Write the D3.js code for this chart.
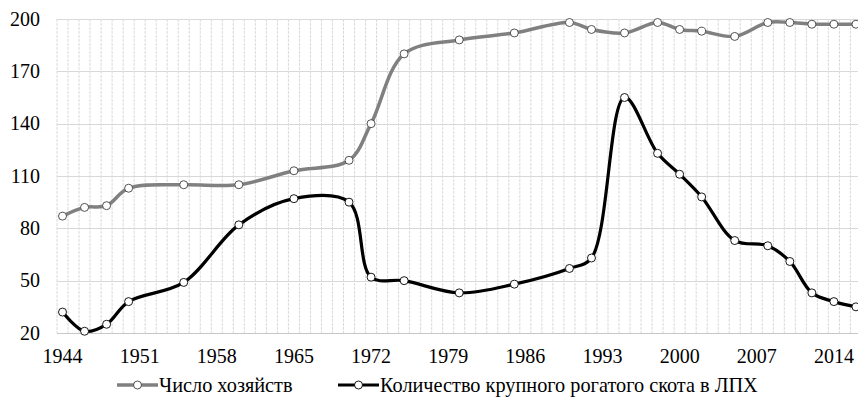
<!DOCTYPE html>
<html>
<head>
<meta charset="utf-8">
<script src="https://cdn.jsdelivr.net/npm/d3@7"></script>
<style>
  html, body { margin: 0; padding: 0; background: #fff; }
  svg { display: block; }
  svg text { font-family: "Liberation Serif", "Times New Roman", Times, "DejaVu Serif", serif !important; fill: #000; }
</style>
</head>
<body>
<svg id="chart" width="858" height="408"></svg>
<script>
const years = [1944,1946,1948,1950,1955,1960,1965,1970,1972,1975,1980,1985,1990,1992,1995,1998,2000,2002,2005,2008,2010,2012,2014,2016];
const households = [87,92,93,103,105,105,113,119,140,180,188,192,198,194,192,198,194,193,190,198,198,197,197,197];
const cattle = [32,21,25,38,49,82,97,95,52,50,43,48,57,63,155,123,111,98,73,70,61,43,38,35];
const seriesNames = ["Число хозяйств", "Количество крупного рогатого скота в ЛПХ"];
const yTicks = [20,50,80,110,140,170,200];
const xTickLabels = [1944,1951,1958,1965,1972,1979,1986,1993,2000,2007,2014];

const FONT = '"Liberation Serif", "Times New Roman", Times, "DejaVu Serif", serif';
const FS = 20;
const allYears = d3.range(1944, 2017);
const svg = d3.select("#chart");
const plotLeft = 57, plotTop = 19, plotBottom = 333;
const step = 11.02;
const x = d3.scaleBand().domain(allYears).range([plotLeft, plotLeft + step * allYears.length]).padding(0);
const y = d3.scaleLinear().domain([20, 200]).range([plotBottom, plotTop]);
const cx = yr => x(yr) + x.bandwidth() / 2;

// vertical gridlines at category boundaries
const g = svg.append("g");
g.selectAll("line.v").data(d3.range(allYears.length + 1)).join("line")
  .attr("x1", i => plotLeft + i * x.bandwidth()).attr("x2", i => plotLeft + i * x.bandwidth())
  .attr("y1", plotTop).attr("y2", plotBottom)
  .attr("stroke", "#dadada").attr("stroke-width", 1).attr("stroke-dasharray", "3,1");
// horizontal gridlines
g.selectAll("line.h").data(yTicks).join("line")
  .attr("x1", plotLeft).attr("x2", plotLeft + step * allYears.length)
  .attr("y1", d => Math.round(y(d)) + 0.5).attr("y2", d => Math.round(y(d)) + 0.5)
  .attr("stroke", d => d === 20 ? "#c8c8c8" : "#d9d9d9").attr("stroke-width", 1);

// y axis labels
const yAxis = d3.axisLeft(y).tickValues(yTicks).tickSize(0).tickPadding(0);
svg.append("g").attr("transform", "translate(40,0)").call(yAxis)
  .attr("font-family", FONT)
  .call(a => a.select(".domain").remove())
  .selectAll("text").attr("font-size", FS).attr("dy", "0.3em");

// x axis labels
const xAxis = d3.axisBottom(x).tickValues(xTickLabels).tickSize(0).tickPadding(0);
svg.append("g").attr("transform", `translate(0,${plotBottom})`).call(xAxis)
  .attr("font-family", FONT)
  .call(a => a.select(".domain").remove())
  .selectAll("text").attr("font-size", FS).attr("dy", "1.5em");

const curve = d3.curveCatmullRom.alpha(0.5);
const line = d3.line().x(d => cx(d[0])).y(d => y(d[1])).curve(curve);

const s1 = years.map((yr, i) => [yr, households[i]]);
const s2 = years.map((yr, i) => [yr, cattle[i]]);

svg.append("path").datum(s1).attr("d", line).attr("fill", "none")
  .attr("stroke", "#808080").attr("stroke-width", 3.5).attr("stroke-linejoin", "round");
svg.append("path").datum(s2).attr("d", line).attr("fill", "none")
  .attr("stroke", "#000").attr("stroke-width", 3.2).attr("stroke-linejoin", "round");

svg.append("g").selectAll("circle").data(s1).join("circle")
  .attr("cx", d => cx(d[0])).attr("cy", d => y(d[1])).attr("r", 4)
  .attr("fill", "#fff").attr("stroke", "#404040").attr("stroke-width", 0.9);
svg.append("g").selectAll("circle").data(s2).join("circle")
  .attr("cx", d => cx(d[0])).attr("cy", d => y(d[1])).attr("r", 4)
  .attr("fill", "#fff").attr("stroke", "#000").attr("stroke-width", 0.9);

// legend
const legend = [
  {name: seriesNames[0], color: "#808080", sw: 3.5, ms: "#404040", x0: 117},
  {name: seriesNames[1], color: "#000", sw: 3.2, ms: "#000", x0: 338}
];
const ly = 385;
const lg = svg.append("g").attr("font-family", FONT);
legend.forEach(l => {
  lg.append("line").attr("x1", l.x0).attr("x2", l.x0 + 41).attr("y1", ly).attr("y2", ly)
    .attr("stroke", l.color).attr("stroke-width", l.sw);
  lg.append("circle").attr("cx", l.x0 + 20.5).attr("cy", ly).attr("r", 4)
    .attr("fill", "#fff").attr("stroke", l.ms).attr("stroke-width", 0.9);
  lg.append("text").attr("x", l.x0 + 42).attr("y", ly).attr("dy", "0.35em")
    .attr("font-size", 20.3).text(l.name);
});
</script>
</body>
</html>
